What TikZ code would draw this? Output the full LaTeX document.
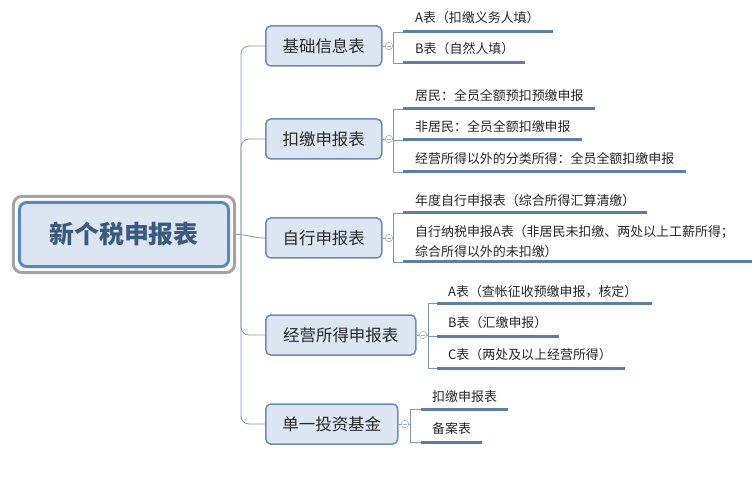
\documentclass[tikz,border=0pt]{standalone}
\usepackage{fontspec}
\setmainfont{Noto Sans CJK SC}
\usetikzlibrary{calc,fit}
\definecolor{nodefill}{HTML}{DCE6F2}
\definecolor{nodeline}{HTML}{6A8CB6}
\definecolor{rootline}{HTML}{5A88C6}
\definecolor{rootgray}{HTML}{A4A4A4}
\definecolor{roottext}{HTML}{3B5A80}
\definecolor{uline}{HTML}{5B7EA8}
\definecolor{connc}{HTML}{7F98B8}
\definecolor{circc}{HTML}{A8B2C0}
\definecolor{txt}{HTML}{262626}
\tikzset{
  rootbox/.style={draw=rootline, line width=3bp, fill=nodefill, rounded corners=7bp,
    minimum width=209bp, minimum height=64bp, inner sep=0pt,
    font=\fontsize{25}{28}\selectfont\bfseries, text=roottext},
  rootframe/.style={draw=rootgray, line width=3bp, rounded corners=8bp, inner sep=4.5bp},
  topic/.style={draw=nodeline, line width=1.5bp, fill=nodefill, rounded corners=5bp,
    minimum height=40bp, inner sep=0pt, anchor=west,
    font=\fontsize{16.5}{19}\selectfont, text=txt},
  leaf/.style={anchor=west, inner sep=0pt, font=\fontsize{13}{20}\selectfont, text=txt, align=left},
  ul/.style={draw=uline, line width=3bp},
  conn/.style={draw=connc, line width=0.8bp},
  collapse/.style={circle, draw=circc, line width=0.6bp, fill=white, minimum size=7.5bp, inner sep=0pt,
    path picture={\draw[circc, line width=0.6bp] ($(path picture bounding box.center)+(-2.2bp,0)$) -- ($(path picture bounding box.center)+(2.2bp,0)$);}},
}
\begin{document}
\begin{tikzpicture}[x=1bp,y=-1bp]
\useasboundingbox (0,0) rectangle (756,485);
% root
\node[rootbox] (root) at (124,234.5) {新个税申报表};
\node[rootframe, fit=(root)] (rootf) {};
% topics
\node[topic, minimum width=116bp] (n1) at (265,46) {基础信息表};
\node[topic, minimum width=116bp] (n2) at (265,139) {扣缴申报表};
\node[topic, minimum width=116bp] (n3) at (265,238) {自行申报表};
\node[topic, minimum width=150bp] (n4) at (265,335) {经营所得申报表};
\node[topic, minimum width=132bp] (n5) at (265,424) {单一投资基金};
% trunk
\coordinate (tr) at (241,238);
\draw[conn, rounded corners=8bp] (n1.west) -| (tr);
\draw[conn, rounded corners=8bp] (n2.west) -| (tr);
\draw[conn, rounded corners=8bp] (n4.west) -| (tr);
\draw[conn, rounded corners=8bp] (n5.west) -| (tr);
\draw[conn] (rootf.east) .. controls +(12,0) and +(-12,0) .. (n3.west);
% collapse markers
\node[collapse] (k1) at ($(n1.east)+(6.5,0)$) {};
\node[collapse] (k2) at ($(n2.east)+(6.5,0)$) {};
\node[collapse] (k3) at ($(n3.east)+(6.5,0)$) {};
\node[collapse] (k4) at ($(n4.east)+(6.5,0)$) {};
\node[collapse] (k5) at ($(n5.east)+(6.5,0)$) {};
\foreach \i in {1,...,5} \draw[conn] (n\i.east) -- (k\i.west);
% group 1
\coordinate (a1s) at (403,32);  \coordinate (a1e) at (553,32);
\coordinate (a2s) at (403,63);  \coordinate (a2e) at (525,63);
\node[leaf] (a1) at (415,18) {A表（扣缴义务人填）};
\node[leaf] (a2) at (415,49) {B表（自然人填）};
\coordinate (b1t) at (393,32); \coordinate (b1b) at (393,63);
\draw[conn] (a1s) -- (b1t) -- (b1b) -- (a2s);
\draw[conn] (k1.east) -- (k1.east -| b1t);
\draw[ul] (a1s) -- (a1e); \draw[ul] (a2s) -- (a2e);
% group 2
\coordinate (a3s) at (403,109); \coordinate (a3e) at (595,109);
\coordinate (a4s) at (403,140); \coordinate (a4e) at (582,140);
\coordinate (a5s) at (403,172); \coordinate (a5e) at (686,172);
\node[leaf] (a3) at (415,96) {居民：全员全额预扣预缴申报};
\node[leaf] (a4) at (415,127) {非居民：全员全额扣缴申报};
\node[leaf] (a5) at (415,159) {经营所得以外的分类所得：全员全额扣缴申报};
\coordinate (b2t) at (393,109); \coordinate (b2b) at (393,172);
\draw[conn] (a3s) -- (b2t) -- (b2b) -- (a5s);
\draw[conn] (a4s) -- (a4s -| b2t);
\draw[conn] (k2.east) -- (k2.east -| b2t);
\draw[ul] (a3s) -- (a3e); \draw[ul] (a4s) -- (a4e); \draw[ul] (a5s) -- (a5e);
% group 3
\coordinate (a6s) at (403,213); \coordinate (a6e) at (647,213);
\coordinate (a7s) at (403,262); \coordinate (a7e) at (752,262);
\node[leaf] (a6) at (415,201) {年度自行申报表（综合所得汇算清缴）};
\node[leaf] (a7) at (415,242) {自行纳税申报A表（非居民未扣缴、两处以上工薪所得；\\综合所得以外的未扣缴）};
\coordinate (b3t) at (393,213); \coordinate (b3b) at (393,262);
\draw[conn] (a6s) -- (b3t) -- (b3b) -- (a7s);
\draw[conn] (k3.east) -- (k3.east -| b3t);
\draw[ul] (a6s) -- (a6e); \draw[ul] (a7s) -- (a7e);
% group 4
\coordinate (a8s) at (437,303);  \coordinate (a8e) at (652,303);
\coordinate (a9s) at (437,336);  \coordinate (a9e) at (559,336);
\coordinate (a10s) at (437,368); \coordinate (a10e) at (625,368);
\node[leaf] (a8) at (448,292) {A表（查帐征收预缴申报，核定）};
\node[leaf] (a9) at (448,323) {B表（汇缴申报）};
\node[leaf] (a10) at (448,355) {C表（两处及以上经营所得）};
\coordinate (b4t) at (428,303); \coordinate (b4b) at (428,368);
\draw[conn] (a8s) -- (b4t) -- (b4b) -- (a10s);
\draw[conn] (a9s) -- (a9s -| b4t);
\draw[conn] (k4.east) -- (k4.east -| b4t);
\draw[ul] (a8s) -- (a8e); \draw[ul] (a9s) -- (a9e); \draw[ul] (a10s) -- (a10e);
% group 5
\coordinate (a11s) at (421,409); \coordinate (a11e) at (508,409);
\coordinate (a12s) at (421,442); \coordinate (a12e) at (482,442);
\node[leaf] (a11) at (432,397) {扣缴申报表};
\node[leaf] (a12) at (432,429) {备案表};
\coordinate (b5t) at (410,409); \coordinate (b5b) at (410,442);
\draw[conn] (a11s) -- (b5t) -- (b5b) -- (a12s);
\draw[conn] (k5.east) -- (k5.east -| b5t);
\draw[ul] (a11s) -- (a11e); \draw[ul] (a12s) -- (a12e);
\end{tikzpicture}
\end{document}
